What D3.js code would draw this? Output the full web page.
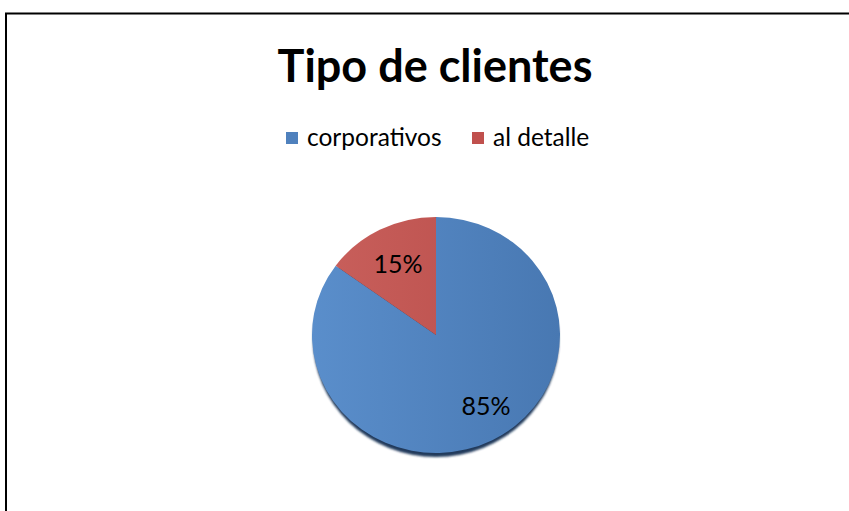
<!DOCTYPE html>
<html>
<head>
<meta charset="utf-8">
<script src="https://cdn.jsdelivr.net/npm/d3@7"></script>
<style>
  html, body { margin: 0; padding: 0; background: #fff; }
  svg { display: block; font-family: Lato, "Open Sans", sans-serif; }
</style>
</head>
<body>
<svg width="849" height="511"></svg>
<script>
const categories = ['corporativos', 'al detalle'];
const values = [85, 15];
const labels = ['85%', '15%'];
const colors = ['#4f81bd', '#c0504d'];

const width = 849;
const height = 511;

const svg = d3.select('svg');

// frame (only top and left edges show)
svg.append('rect')
    .attr('x', 6).attr('y', 13.5)
    .attr('width', width + 20).attr('height', height + 20)
    .attr('fill', 'none')
    .attr('stroke', '#000')
    .attr('stroke-width', 2);

svg.append('text')
    .attr('x', 435).attr('y', 82)
    .attr('text-anchor', 'middle')
    .attr('font-size', 45)
    .attr('font-weight', 'bold')
    .attr('fill', '#000')
    .text('Tipo de clientes');

const defs = svg.append('defs');
const grads = [['#5a8ecb', '#4878b2'], ['#c9605c', '#b84c49']];
grads.forEach(function(g, i) {
    const lg = defs.append('linearGradient')
        .attr('id', 'g' + i)
        .attr('gradientUnits', 'userSpaceOnUse')
        .attr('x1', -124).attr('x2', 124).attr('y1', 0).attr('y2', 0);
    lg.append('stop').attr('offset', 0).attr('stop-color', g[0]);
    lg.append('stop').attr('offset', 1).attr('stop-color', g[1]);
});
defs.append('filter').attr('id', 'blur')
    .append('feGaussianBlur').attr('stdDeviation', 1.2);

// legend
const legend = svg.append('g').attr('transform', 'translate(0,138)');
const legendX = [286, 472];
categories.forEach(function(c, i) {
    legend.append('rect')
        .attr('x', legendX[i]).attr('y', -6)
        .attr('width', 12).attr('height', 12)
        .attr('fill', colors[i]);
    legend.append('text')
        .attr('x', legendX[i] + 21).attr('y', 8)
        .attr('font-size', 24.5)
        .attr('fill', '#000')
        .text(c);
});

const rx = 124;
const ry = 118;
const cx = 436;
const cy = 335;

const pie = d3.pie().sort(null).value(function(d) { return d; });
const arcs = pie(values);
const arc = d3.arc().innerRadius(0).outerRadius(rx);

// shadow
svg.append('ellipse')
    .attr('cx', cx).attr('cy', cy + 4)
    .attr('rx', rx - 1).attr('ry', ry)
    .attr('fill', '#203a5c')
    .attr('filter', 'url(#blur)');

const g = svg.append('g')
    .attr('transform', `translate(${cx},${cy}) scale(1,${ry / rx})`);

g.selectAll('path').data(arcs)
    .enter().append('path')
    .attr('d', arc)
    .attr('fill', function(d, i) { return 'url(#g' + i + ')'; });

const labelPos = [[50, 70], [-38, -72]];
arcs.forEach(function(d, i) {
    svg.append('text')
        .attr('x', cx + labelPos[i][0])
        .attr('y', cy + labelPos[i][1])
        .attr('text-anchor', 'middle')
        .attr('dominant-baseline', 'central')
        .attr('font-size', 25)
        .attr('fill', '#000')
        .text(labels[i]);
});
</script>
</body>
</html>
